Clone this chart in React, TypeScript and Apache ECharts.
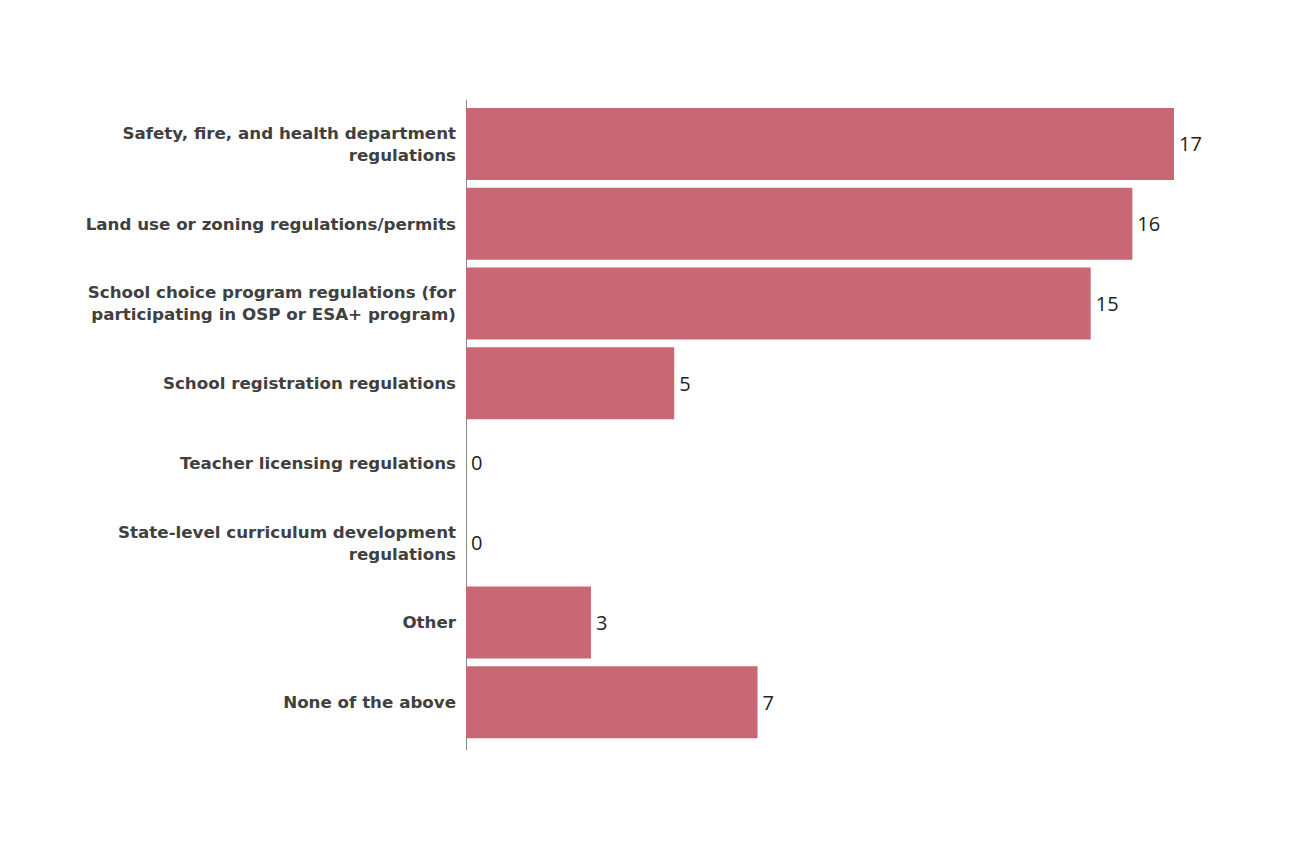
import React, { useEffect, useRef } from "react";
import * as echarts from "echarts";

const categories = [
  "Safety, fire, and health department\nregulations",
  "Land use or zoning regulations/permits",
  "School choice program regulations (for\nparticipating in OSP or ESA+ program)",
  "School registration regulations",
  "Teacher licensing regulations",
  "State-level curriculum development\nregulations",
  "Other",
  "None of the above",
];
const values = [17, 16, 15, 5, 0, 0, 3, 7];

export default function App() {
  const ref = useRef<HTMLDivElement>(null);
  useEffect(() => {
    if (!ref.current) return;
    const chart = echarts.init(ref.current, null, { renderer: "svg" });
    chart.setOption({
      animation: false,
      backgroundColor: "#ffffff",
      grid: { left: 466, right: 126, top: 104, bottom: 108, containLabel: false },
      xAxis: {
        type: "value",
        min: 0,
        max: 17,
        show: false,
      },
      yAxis: {
        type: "category",
        data: categories,
        inverse: true,
        axisLine: { show: false },
        axisTick: { show: false },
        axisLabel: {
          margin: 10,
          fontFamily: "DejaVu Sans",
          fontWeight: "bold",
          fontSize: 16.7,
          color: "#404040",
          lineHeight: 22,
          align: "right",
        },
      },
      graphic: [
        {
          type: "line",
          shape: { x1: 466.5, y1: 100, x2: 466.5, y2: 750 },
          style: { stroke: "#8a8a8a", lineWidth: 1 },
        },
      ],
      series: [
        {
          type: "bar",
          data: values,
          barWidth: 72,
          itemStyle: { color: "#C96874" },
          label: {
            show: true,
            position: "right",
            distance: 5,
            fontFamily: "Open Sans",
            fontSize: 20,
            color: "#222222",
          },
        },
      ],
    });
    return () => chart.dispose();
  }, []);
  return (
    <div
      ref={ref}
      style={{ position: "fixed", left: 0, top: 0, width: 1300, height: 850 }}
    />
  );
}
